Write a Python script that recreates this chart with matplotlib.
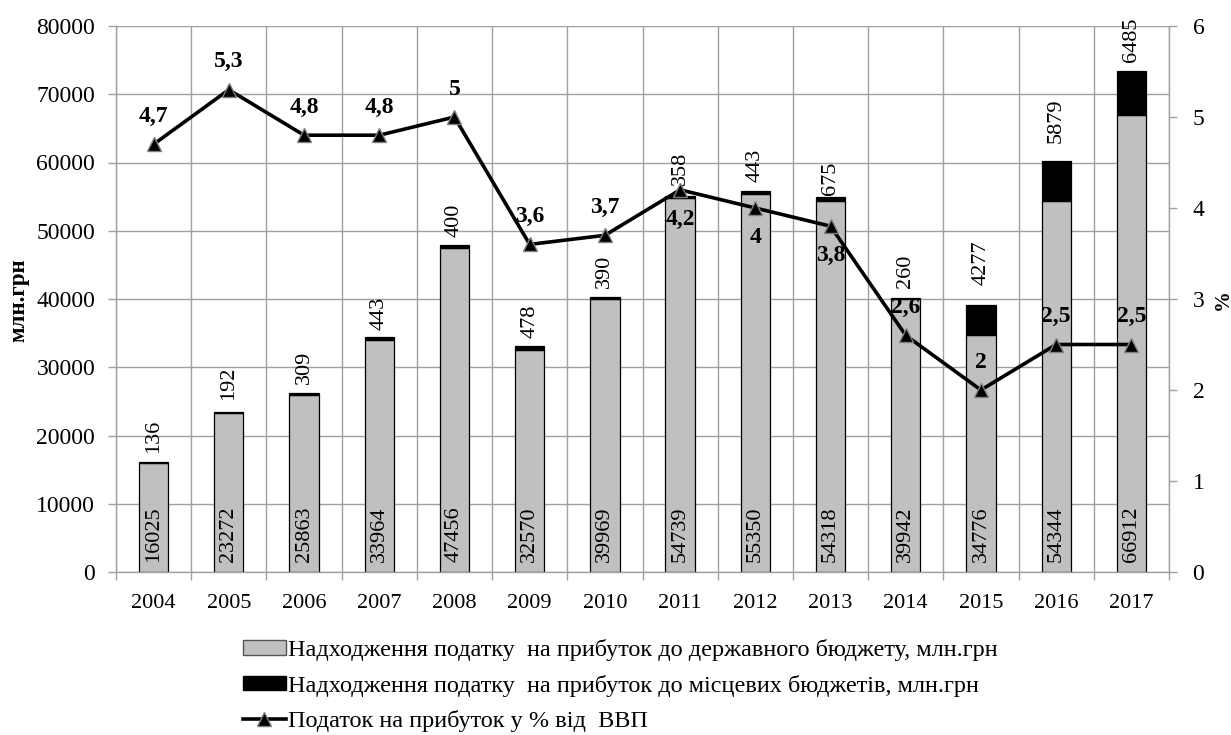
import matplotlib
matplotlib.use("Agg")
import matplotlib.pyplot as plt
from matplotlib.patches import Patch
from matplotlib.lines import Line2D
import numpy as np

plt.rcParams['font.family'] = ['Liberation Serif', 'DejaVu Serif']

# Corporate profit tax revenues, Ukraine
years = ['2004', '2005', '2006', '2007', '2008', '2009', '2010',
         '2011', '2012', '2013', '2014', '2015', '2016', '2017']
state_budget = [16025, 23272, 25863, 33964, 47456, 32570, 39969,
                54739, 55350, 54318, 39942, 34776, 54344, 66912]
local_budgets = [136, 192, 309, 443, 400, 478, 390,
                 358, 443, 675, 260, 4277, 5879, 6485]
gdp_share = [4.7, 5.3, 4.8, 4.8, 5.0, 3.6, 3.7,
             4.2, 4.0, 3.8, 2.6, 2.0, 2.5, 2.5]
gdp_share_text = ['4,7', '5,3', '4,8', '4,8', '5', '3,6', '3,7',
                  '4,2', '4', '3,8', '2,6', '2', '2,5', '2,5']

legend_labels = [
    'Надходження податку  на прибуток до державного бюджету, млн.грн',
    'Надходження податку  на прибуток до місцевих бюджетів, млн.грн',
    'Податок на прибуток у % від  ВВП',
]

# label placement tweaks (points)
local_label_gap = [6.5, 8.5, 7, 5, 6, 6, 6.5, 8, 6.5, 1.5, 7, 14.5, 13, 6.5]
share_label_below = [False] * 7 + [True, True, True] + [False] * 4

GRID = '#a0a0a0'
BAR_GREY = '#c0c0c0'

W, H = 1231, 735
fig = plt.figure(figsize=(W / 100, H / 100), dpi=100)
left, right, top, bottom = 116, 1169, 26, 572
ax = fig.add_axes([left / W, 1 - bottom / H, (right - left) / W, (bottom - top) / H])

x = np.arange(len(years))
bw = 0.39
ax.bar(x, state_budget, width=bw, color=BAR_GREY, edgecolor='black',
       linewidth=0.9, zorder=2)
ax.bar(x, local_budgets, width=bw, bottom=state_budget, color='black',
       edgecolor='black', linewidth=0.9, zorder=2)

ax.set_xlim(-0.5, len(years) - 0.5)
ax.set_ylim(0, 80000)
ax.set_yticks(np.arange(0, 80001, 10000))
ax.set_xticks(x)
ax.set_xticklabels(years)
ax.set_xticks(np.arange(-0.5, len(years), 1.0), minor=True)

ax.set_axisbelow(True)
ax.grid(axis='y', which='major', color=GRID, linewidth=1.0)
ax.grid(axis='x', which='minor', color=GRID, linewidth=1.0)
ax.grid(axis='x', which='major', visible=False)

ax.tick_params(axis='x', which='major', length=0, pad=16, labelsize=16)
ax.tick_params(axis='x', which='minor', length=6, width=1.0, color=GRID,
               direction='out')
ax.tick_params(axis='y', length=6, width=1.0, color=GRID, pad=9, labelsize=17)
for side in ('left', 'bottom'):
    ax.spines[side].set_color(GRID)
    ax.spines[side].set_linewidth(1.0)
for side in ('top', 'right'):
    ax.spines[side].set_visible(False)

# values inside the grey bars
for i, v in enumerate(state_budget):
    ax.annotate(str(v), xy=(i, 0), xytext=(0, 7), textcoords='offset points',
                rotation=90, ha='center', va='bottom', fontsize=16, zorder=3)
# values above the black segments
for i, (s, v) in enumerate(zip(state_budget, local_budgets)):
    ax.annotate(str(v), xy=(i, s + v), xytext=(0, local_label_gap[i]),
                textcoords='offset points', rotation=90, ha='center',
                va='bottom', fontsize=16, zorder=3)

ax2 = ax.twinx()
ax2.set_ylim(0, 6)
ax2.set_yticks(range(0, 7))
ax2.plot(x, gdp_share, color='black', linewidth=2.6, marker='^',
         markersize=10, markerfacecolor='black', markeredgecolor='#808080',
         markeredgewidth=1.0, zorder=4)
for i, (v, t) in enumerate(zip(gdp_share, gdp_share_text)):
    dy = -21 if share_label_below[i] else 20
    ax2.annotate(t, xy=(i, v), xytext=(0, dy), textcoords='offset points',
                 ha='center', va='center', fontsize=17, fontweight='bold',
                 zorder=5)
ax2.tick_params(axis='y', length=6, width=1.0, color=GRID, pad=11, labelsize=17)
ax2.spines['right'].set_color(GRID)
ax2.spines['right'].set_linewidth(1.0)
for side in ('left', 'bottom', 'top'):
    ax2.spines[side].set_visible(False)

fig.text(19 / W, 1 - 300 / H, 'млн.грн', rotation=90, ha='center', va='center',
         fontsize=16.5, fontweight='bold')
fig.text(1223 / W, 1 - 300 / H, '%', rotation=90, ha='center', va='center',
         fontsize=15, fontweight='bold')

handles = [
    Patch(facecolor=BAR_GREY, edgecolor='#555555', linewidth=1.0),
    Patch(facecolor='black', edgecolor='black'),
    Line2D([], [], color='black', linewidth=2.6, marker='^', markersize=10,
           markerfacecolor='black', markeredgecolor='#808080'),
]
fig.legend(handles, legend_labels, loc='upper left',
           bbox_to_anchor=(243 / W, 1 - 639 / H), frameon=False,
           fontsize=17.5, handlelength=1.75, handleheight=0.55,
           handletextpad=0.1, labelspacing=0.56, borderaxespad=0,
           borderpad=0)

fig.savefig('out.png', dpi=100)
